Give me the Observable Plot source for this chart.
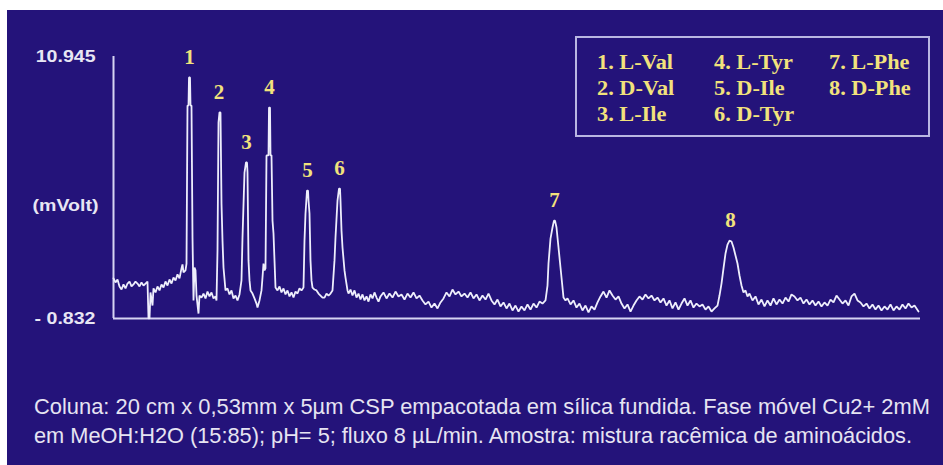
<!DOCTYPE html>
<html>
<head>
<meta charset="utf-8">
<script src="https://cdn.jsdelivr.net/npm/d3@7"></script>
<script src="https://cdn.jsdelivr.net/npm/@observablehq/plot@0.6"></script>
<style>
  html, body { margin: 0; padding: 0; background: #ffffff; width: 943px; height: 465px; overflow: hidden; }
  #panel { position: absolute; left: 7px; top: 10px; width: 936px; height: 455px; background: #24137a; }
  #chart { position: absolute; left: 0; top: 0; }
  #legend { position: absolute; left: 575px; top: 36px; width: 351px; height: 97px; border: 2px solid #b9b6e2; }
  .leg { position: absolute; font-family: "Liberation Serif", serif; font-weight: bold; font-size: 20px; color: #f2e27c; white-space: nowrap; transform-origin: 0 50%; line-height: 1; }
  .cap { position: absolute; left: 34px; font-family: "Liberation Sans", Arial, sans-serif; font-size: 21.5px; color: #e6e4f2; white-space: nowrap; transform-origin: 0 50%; line-height: 1; }
</style>
</head>
<body>
<div id="panel"></div>
<div id="chart"></div>
<div id="legend"></div>
<div id="caption"></div>
<script>
// ---- data ----
const yMin = -0.832, yMax = 10.945;           // mV, axis limits
const yTickLabels = ["- 0.832", "10.945"];
const yLabel = "(mVolt)";
const tEnd = 807;                              // end of recorded run (arbitrary time units)

// chromatogram trace: [time, signal mV]
const trace = [
 [0,0.97],[2,0.79],[4,0.92],[6,0.61],[8,0.47],[10,0.70],[12,0.52],[14,0.74],[16,0.83],[18,0.61],[20,0.70],[22,0.83],[24,0.74],[26,0.61],[28,0.79],[30,0.65],[32,0.74],[34,0.83],
 [35,-0.83],[36,-0.83],[37,0.34],[39,-0.25],[40,0.52],[42,0.34],[44,0.61],[46,0.43],[48,0.70],[50,0.56],[52,0.83],[54,0.65],[56,0.92],[58,0.74],[60,1.01],[62,0.88],[64,1.15],[66,0.97],[68,1.42],[69,1.60],[70,1.24],[72,1.33],[73,1.64],
 [74,8.74],[75,8.74],[75.5,10.0],[76.5,10.0],[77,8.74],[78,8.74],[79,2.81],[80,-0.02],[81,1.46],[82,1.33],[83,0.20],[85,-0.61],[86,0.20],[88,0.11],[90,0.29],[92,0.07],[94,0.38],[96,0.16],[98,0.34],[100,0.07],[102,0.16],[103,-0.02],
 [104,2.22],[105,7.98],[106,8.43],[107,8.43],[108,4.34],[109,2.67],[110,1.46],[112,0.43],[114,0.52],[116,0.25],[118,0.43],[120,0.07],[122,0.20],[124,-0.02],[126,0.25],
 [128,0.88],[129,2.81],[131,5.73],[132.5,6.18],[133.5,6.18],[134,5.73],[135,1.78],[136,0.88],[137,0.43],[139,0.29],[141,0.07],[143,-0.16],[144,-0.34],[146,-0.02],[148,0.43],
 [149,1.01],[150,1.64],[151,1.33],[152,1.42],
 [153,6.50],[155,6.50],[155.5,8.65],[156.5,8.65],[157,6.50],[158,6.50],[159,3.57],[160,2.99],[161,1.78],[162,0.56],[164,0.43],[166,0.61],[168,0.34],[170,0.52],[172,0.25],[174,0.43],[176,0.16],[178,0.34],[180,0.11],[182,0.38],[184,0.29],[186,0.52],[188,0.43],[190,0.56],
 [191,2.67],[192,3.89],[193.5,4.92],[194.5,4.92],[195,4.47],[196,3.89],[197,1.78],[198,0.88],[199,0.56],[201,0.47],[203,0.43],[205,0.29],[207,0.20],[209,0.11],[211,0.11],[213,0.29],[215,0.20],[217,0.29],[219,0.43],
 [221,1.78],[222,2.81],[224,4.47],[225.5,5.01],[226.5,5.01],[227,4.47],[228,3.12],[229,2.36],[231,1.33],[232,1.01],[234,0.43],[235,0.29],[237,0.47],[239,0.20],[241,0.43],[243,0.11],[245,0.29],[247,0.02],[249,0.25],[251,-0.02],[253,0.16],[255,-0.07],[257,0.25],[259,0.07],[261,0.34],[263,0.11],[265,-0.07],[267,0.16],
 [270,0.34],[273,0.07],[276,0.29],[279,0.11],[282,0.38],[285,0.16],[288,0.25],[291,0.02],[294,0.29],[297,0.11],[300,0.34],[303,0.07],[306,0.20],[309,-0.02],[312,-0.20],[315,-0.07],[318,-0.34],[321,-0.16],[324,-0.38],[327,-0.11],[330,0.07],[333,0.34],[336,0.16],[339,0.47],[342,0.25],[345,0.38],[348,0.16],[351,0.29],[354,0.11],[357,0.34],[360,0.07],[363,0.25],[366,-0.02],[369,0.20],[372,0.02],[375,0.29],[378,-0.02],[381,-0.20],[384,0.02],[387,-0.29],[390,-0.11],[393,-0.38],[396,-0.16],[399,-0.47],[402,-0.25],[405,-0.52],[408,-0.29],[411,-0.47],[414,-0.20],[417,-0.43],[420,-0.16],[423,-0.34],[426,-0.07],[429,-0.16],[432,-0.02],
 [434,0.65],[435,1.64],[437,2.76],[439,3.26],[440.5,3.57],[441.5,3.57],[443,3.26],[445,2.36],[447,1.46],[449,0.56],[450,0.11],[452,-0.02],[454,0.07],
 [457,-0.20],[460,-0.02],[463,-0.34],[466,-0.16],[469,-0.47],[472,-0.25],[475,-0.56],[478,-0.29],[481,-0.43],[484,-0.11],[487,0.16],[490,0.38],[493,0.11],[496,0.43],[499,0.20],[502,0.02],[505,0.16],[508,-0.16],[511,-0.38],[514,-0.20],[517,-0.52],[520,-0.25],[523,-0.02],[526,0.16],[529,0.02],[532,0.25],[535,0.07],[538,0.20],[541,-0.02],[544,0.11],[547,-0.11],[550,0.07],[553,-0.25],[556,-0.02],[559,-0.38],[562,-0.11],[565,-0.43],[568,-0.16],[571,0.07],[574,-0.25],[577,-0.02],[580,-0.34],[583,-0.16],[586,-0.29],[589,-0.20],[592,-0.43],[595,-0.29],[598,-0.52],[601,-0.38],[604,-0.25],
 [606,0.20],[608,0.74],[610,1.42],[612,2.09],[614,2.49],[616,2.67],[618,2.63],[620,2.36],[622,2.00],[624,1.64],[626,1.10],[628,0.65],[630,0.34],[632,0.43],[634,0.16],[636,0.29],
 [639,-0.02],[642,0.16],[645,-0.20],[648,0.02],[651,-0.29],[654,-0.02],[657,-0.25],[660,0.07],[663,-0.20],[666,0.02],[669,-0.16],[672,0.11],[675,-0.07],[678,0.25],[681,0.16],[684,-0.02],[687,0.11],[690,-0.16],[693,0.02],[696,-0.20],[699,-0.02],[702,-0.25],[705,-0.07],[708,-0.29],[711,-0.11],[714,-0.25],[717,0.02],[720,-0.11],[723,0.20],[726,0.02],[729,-0.16],[732,-0.02],[735,-0.25],[738,0.16],[741,0.29],[744,-0.02],[747,-0.11],[750,-0.29],[753,-0.16],[756,-0.38],[759,-0.20],[762,-0.43],[765,-0.25],[768,-0.47],[771,-0.29],[774,-0.43],[777,-0.20],[780,-0.47],[783,-0.29],[786,-0.43],[789,-0.20],[792,-0.38],[795,-0.16],[798,-0.34],[801,-0.25],[805,-0.52]
];

// peaks
const peakNumbers = ["1","2","3","4","5","6","7","8"];
const peakTimes   = [76, 105.5, 133, 156, 194, 226, 441, 617];
const peakHeights = [10.0, 8.43, 6.18, 8.65, 4.92, 5.01, 3.57, 2.67];

// legend (three columns)
const legendCol1 = ["1. L-Val", "2. D-Val", "3. L-Ile"];
const legendCol2 = ["4. L-Tyr", "5. D-Ile", "6. D-Tyr"];
const legendCol3 = ["7. L-Phe", "8. D-Phe"];

const captionLines = [
  "Coluna: 20 cm x 0,53mm x 5µm CSP empacotada em sílica fundida. Fase móvel Cu2+ 2mM",
  "em MeOH:H2O (15:85); pH= 5; fluxo 8 µL/min. Amostra: mistura racêmica de aminoácidos."
];

// ---- chart ----
const peaks = peakNumbers.map((n, i) => ({n, t: peakTimes[i], v: peakHeights[i]}));
const traceColor = "#eeeefc";
const axisColor = "#d6d4f2";
const textColor = "#e8e6f4";

const chart = Plot.plot({
  width: 943,
  height: 350,
  marginLeft: 113,
  marginRight: 23,
  marginTop: 56,
  marginBottom: 32,
  style: {background: "transparent", overflow: "visible"},
  x: {domain: [0, tEnd], axis: null},
  y: {domain: [yMin, yMax], axis: null},
  marks: [
    Plot.axisY({
      ticks: [yMin, yMax],
      tickFormat: (d) => d === yMin ? yTickLabels[0] : yTickLabels[1],
      tickSize: 0, tickPadding: 18,
      fontSize: 17, fontWeight: "bold", fontFamily: "Liberation Sans, Arial, sans-serif",
      color: textColor, label: null
    }),
    Plot.text([yLabel], {
      frameAnchor: "left", dx: -15, dy: 18, textAnchor: "end",
      fill: textColor, fontSize: 17, fontWeight: "bold", fontFamily: "Liberation Sans, Arial, sans-serif"
    }),
    Plot.ruleY([yMin], {x1: 0, x2: tEnd, stroke: axisColor, strokeWidth: 2}),
    Plot.ruleX([0], {y1: yMin, y2: yMax, stroke: axisColor, strokeWidth: 2}),
    Plot.line(trace, {x: (d) => d[0], y: (d) => d[1], stroke: traceColor, strokeWidth: 1.8, strokeLinejoin: "miter"}),
    Plot.text(peaks, {
      x: "t", y: "v", text: "n", dy: -20, className: "peaklabel",
      fill: "#f2e27c", fontSize: 21, fontWeight: "bold", fontFamily: "Liberation Serif, serif"
    })
  ]
});
document.getElementById("chart").appendChild(chart);

// widen axis text horizontally to match the stretched original
chart.querySelectorAll("text").forEach((el) => {
  if (el.closest(".peaklabel")) return;
  const w = el.getComputedTextLength();
  if (w > 0) {
    el.setAttribute("textLength", (w * 1.15).toFixed(1));
    el.setAttribute("lengthAdjust", "spacingAndGlyphs");
  }
});

// ---- legend ----
const legend = document.getElementById("legend");
const colX = [20, 137, 252];
const rowY = [24, 50, 76];
const legItems = [];
[legendCol1, legendCol2, legendCol3].forEach((col, ci) => {
  col.forEach((label, ri) => {
    const s = document.createElement("div");
    s.className = "leg";
    s.textContent = label;
    s.style.left = colX[ci] + "px";
    s.style.top = (rowY[ri] - 10) + "px";
    legend.appendChild(s);
    legItems.push(s);
  });
});
const legScale = 76 / legItems[0].getBoundingClientRect().width;
legItems.forEach((s) => { s.style.transform = `scaleX(${legScale})`; });

// ---- caption ----
const cap = document.getElementById("caption");
const capTop = [397, 426];
const capWidth = [896, 878];
captionLines.forEach((line, i) => {
  const d = document.createElement("div");
  d.className = "cap";
  d.textContent = line;
  d.style.top = capTop[i] + "px";
  cap.appendChild(d);
  const w = d.getBoundingClientRect().width;
  d.style.transform = `scaleX(${capWidth[i] / w})`;
});
</script>
</body>
</html>
